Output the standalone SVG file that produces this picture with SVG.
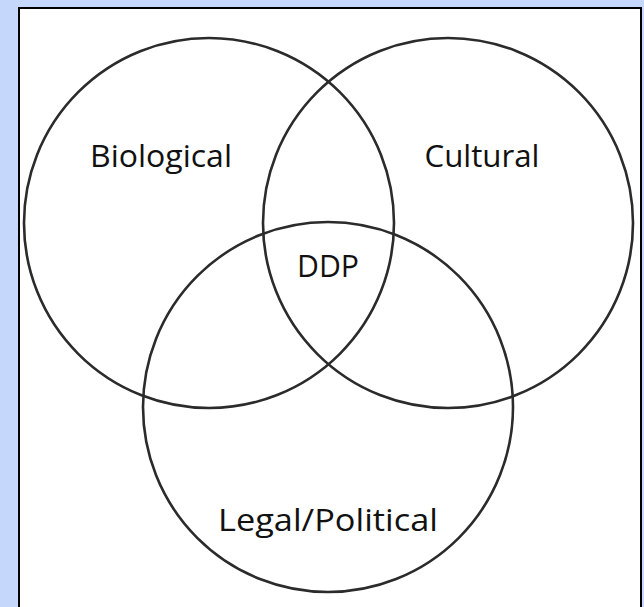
<svg xmlns="http://www.w3.org/2000/svg" width="644" height="607" viewBox="0 0 644 607">
  <style>
    .ring { fill: none; stroke: #2b2b2b; stroke-width: 2.6; }
    .lbl { font-family: "Open Sans", "Liberation Sans", sans-serif; font-size: 31px; fill: #111; text-anchor: middle; }
  </style>
  <!-- page background and frame -->
  <rect x="0" y="0" width="644" height="607" fill="#c5d7fa"/>
  <rect x="19" y="8" width="622" height="610" fill="#ffffff" stroke="#000000" stroke-width="2"/>

  <g id="biological">
    <circle class="ring" cx="209" cy="223" r="185"/>
    <text class="lbl" x="161" y="167" textLength="142" lengthAdjust="spacingAndGlyphs">Biological</text>
  </g>
  <g id="cultural">
    <circle class="ring" cx="448" cy="223" r="185"/>
    <text class="lbl" x="482" y="167" textLength="115" lengthAdjust="spacingAndGlyphs">Cultural</text>
  </g>
  <g id="legal-political">
    <circle class="ring" cx="328" cy="407" r="185"/>
    <text class="lbl" x="328" y="531" textLength="220" lengthAdjust="spacingAndGlyphs">Legal/Political</text>
  </g>
  <g id="ddp">
    <text class="lbl" x="328" y="277" textLength="62" lengthAdjust="spacingAndGlyphs">DDP</text>
  </g>
</svg>
